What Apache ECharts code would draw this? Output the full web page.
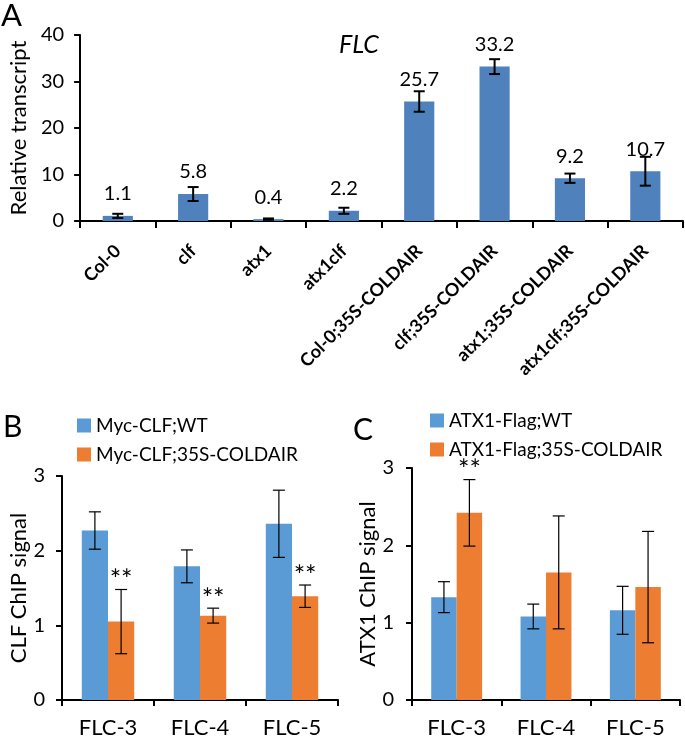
<!DOCTYPE html>
<html><head><meta charset="utf-8">
<script src="https://cdn.jsdelivr.net/npm/echarts@6/dist/echarts.min.js"></script>
<style>html,body{margin:0;padding:0;background:#fff}#c{width:685px;height:739px}</style>
</head><body><div id="c"></div>
<script>
// Panel A data
const catsA = ['Col-0','clf','atx1','atx1clf','Col-0;35S-COLDAIR','clf;35S-COLDAIR','atx1;35S-COLDAIR','atx1clf;35S-COLDAIR'];
const valsA = [1.1, 5.8, 0.4, 2.2, 25.7, 33.2, 9.2, 10.7];
const errA  = [0.45, 1.5, 0.15, 0.65, 2.2, 1.6, 1.0, 3.1];
const ticksA = [0, 10, 20, 30, 40];
// Panels B & C data
const catsBC = ['FLC-3','FLC-4','FLC-5'];
const bWT = [2.27, 1.79, 2.36];   const bWTErr = [0.25, 0.22, 0.45];
const bCO = [1.05, 1.13, 1.39];   const bCOErr = [0.43, 0.10, 0.15];
const bStars = ['**','**','**'];
const cWT = [1.33, 1.08, 1.16];   const cWTErr = [0.20, 0.16, 0.31];
const cCO = [2.42, 1.65, 1.46];   const cCOErr = [0.43, 0.73, 0.72];
const cStars = ['**','',''];
const ticksBC = [0, 1, 2, 3];

const FONT = 'Lato';
const BLUE_A = '#4F81BD', BLUE = '#5B9BD5', ORANGE = '#ED7D31';
const GAP = 0.43;

function errSeries(xi, yi, vals, errs, offsetSign, lw, capW) {
  return {
    type: 'custom', xAxisIndex: xi, yAxisIndex: yi, z: 5, silent: true,
    data: vals.map((v, i) => [i, v - errs[i], v + errs[i]]),
    renderItem: function (params, api) {
      const catW = api.size([1, 0])[0];
      const bw = offsetSign === 0 ? 0 : catW * (1 - GAP) / 2;
      const off = offsetSign * bw / 2;
      const lo = api.coord([api.value(0), api.value(1)]);
      const hi = api.coord([api.value(0), api.value(2)]);
      const x = lo[0] + off;
      const st = {stroke: '#000', lineWidth: lw};
      return {type: 'group', children: [
        {type: 'line', shape: {x1: x, y1: lo[1], x2: x, y2: hi[1]}, style: st},
        {type: 'line', shape: {x1: x - capW/2, y1: lo[1], x2: x + capW/2, y2: lo[1]}, style: st},
        {type: 'line', shape: {x1: x - capW/2, y1: hi[1], x2: x + capW/2, y2: hi[1]}, style: st}
      ]};
    }
  };
}
function starSeries(xi, yi, vals, errs, stars) {
  return {
    type: 'custom', xAxisIndex: xi, yAxisIndex: yi, z: 6, silent: true,
    data: vals.map((v, i) => [i, v + errs[i], stars[i]]),
    renderItem: function (params, api) {
      const catW = api.size([1, 0])[0];
      const bw = catW * (1 - GAP) / 2;
      const p = api.coord([api.value(0), api.value(1)]);
      return {type: 'text', style: {
        text: stars[params.dataIndex], x: p[0] + bw / 2, y: p[1] - 9,
        textAlign: 'center', textVerticalAlign: 'middle',
        font: '27px ' + FONT, fill: '#000'}};
    }
  };
}

const axisLine = {show: true, lineStyle: {color: '#000', width: 2}};
const axisTick = {show: true, length: 6, lineStyle: {color: '#000', width: 2}};

function yAxisDef(gi, max, interval, name, nameGap, labelMargin) {
  return {
    type: 'value', gridIndex: gi, min: 0, max: max, interval: interval,
    name: name, nameLocation: 'middle', nameGap: nameGap,
    nameTextStyle: {fontFamily: FONT, fontSize: 22, color: '#000'},
    axisLine: axisLine, axisTick: axisTick, splitLine: {show: false},
    axisLabel: {fontFamily: FONT, fontSize: 20, color: '#000', margin: labelMargin}
  };
}

const chart = echarts.init(document.getElementById('c'));
chart.setOption({
  animation: false,
  backgroundColor: '#fff',
  title: [
    {text: 'A', left: -4, top: -5, textStyle: {fontFamily: FONT, fontSize: 31, fontWeight: 'normal', color: '#000'}},
    {text: 'FLC', left: 334, top: 27, textStyle: {fontFamily: FONT, fontSize: 25, fontStyle: 'italic', fontWeight: 'normal', color: '#000'}},
    {text: 'B', left: -2, top: 407, textStyle: {fontFamily: FONT, fontSize: 30, fontWeight: 'normal', color: '#000'}},
    {text: 'C', left: 348, top: 410, textStyle: {fontFamily: FONT, fontSize: 30, fontWeight: 'normal', color: '#000'}}
  ],
  legend: [
    {data: ['Myc-CLF;WT', 'Myc-CLF;35S-COLDAIR'], orient: 'vertical', left: 72, top: 411,
     itemWidth: 14, itemHeight: 14, itemGap: 10, icon: 'rect',
     textStyle: {fontFamily: FONT, fontSize: 19, color: '#000'}},
    {data: ['ATX1-Flag;WT', 'ATX1-Flag;35S-COLDAIR'], orient: 'vertical', left: 425, top: 406,
     itemWidth: 14, itemHeight: 14, itemGap: 10, icon: 'rect',
     textStyle: {fontFamily: FONT, fontSize: 19, color: '#000'}}
  ],
  grid: [
    {left: 70, top: 35, width: 613, height: 186},
    {left: 62, top: 476, width: 276, height: 225},
    {left: 412, top: 468, width: 268, height: 234}
  ],
  xAxis: [
    {type: 'category', gridIndex: 0, data: catsA, axisLine: axisLine, axisTick: {show: true, length: 7, lineStyle: {color: '#000', width: 2}},
     axisLabel: {rotate: 45, interval: 0, fontFamily: FONT, fontWeight: 'bold', fontSize: 18, color: '#000', margin: 27}},
    {type: 'category', gridIndex: 1, data: catsBC, axisLine: axisLine, axisTick: {show: true, length: 6, lineStyle: {color: '#000', width: 2}},
     axisLabel: {fontFamily: FONT, fontSize: 22, color: '#000', margin: 17}},
    {type: 'category', gridIndex: 2, data: catsBC, axisLine: axisLine, axisTick: {show: true, length: 6, lineStyle: {color: '#000', width: 2}},
     axisLabel: {fontFamily: FONT, fontSize: 22, color: '#000', margin: 17}}
  ],
  yAxis: [
    yAxisDef(0, ticksA[ticksA.length - 1], ticksA[1] - ticksA[0], 'Relative transcript', 42, 16),
    yAxisDef(1, ticksBC[ticksBC.length - 1], ticksBC[1] - ticksBC[0], 'CLF ChIP signal', 32, 17),
    yAxisDef(2, ticksBC[ticksBC.length - 1], ticksBC[1] - ticksBC[0], 'ATX1 ChIP signal', 33, 18)
  ],
  series: [
    {type: 'bar', xAxisIndex: 0, yAxisIndex: 0, data: valsA, barWidth: '40%',
     itemStyle: {color: BLUE_A},
     label: {show: true, position: 'top', distance: 12, fontFamily: FONT, fontSize: 20, color: '#000'}},
    errSeries(0, 0, valsA, errA, 0, 2, 11),
    {name: 'Myc-CLF;WT', type: 'bar', xAxisIndex: 1, yAxisIndex: 1, data: bWT, barGap: '0%', barCategoryGap: (GAP * 100) + '%', itemStyle: {color: BLUE}},
    {name: 'Myc-CLF;35S-COLDAIR', type: 'bar', xAxisIndex: 1, yAxisIndex: 1, data: bCO, barGap: '0%', barCategoryGap: (GAP * 100) + '%', itemStyle: {color: ORANGE}},
    errSeries(1, 1, bWT, bWTErr, -1, 1.2, 12),
    errSeries(1, 1, bCO, bCOErr, 1, 1.2, 12),
    starSeries(1, 1, bCO, bCOErr, bStars),
    {name: 'ATX1-Flag;WT', type: 'bar', xAxisIndex: 2, yAxisIndex: 2, data: cWT, barGap: '0%', barCategoryGap: (GAP * 100) + '%', itemStyle: {color: BLUE}},
    {name: 'ATX1-Flag;35S-COLDAIR', type: 'bar', xAxisIndex: 2, yAxisIndex: 2, data: cCO, barGap: '0%', barCategoryGap: (GAP * 100) + '%', itemStyle: {color: ORANGE}},
    errSeries(2, 2, cWT, cWTErr, -1, 1.2, 12),
    errSeries(2, 2, cCO, cCOErr, 1, 1.2, 12),
    starSeries(2, 2, cCO, cCOErr, cStars)
  ]
});
</script></body></html>
